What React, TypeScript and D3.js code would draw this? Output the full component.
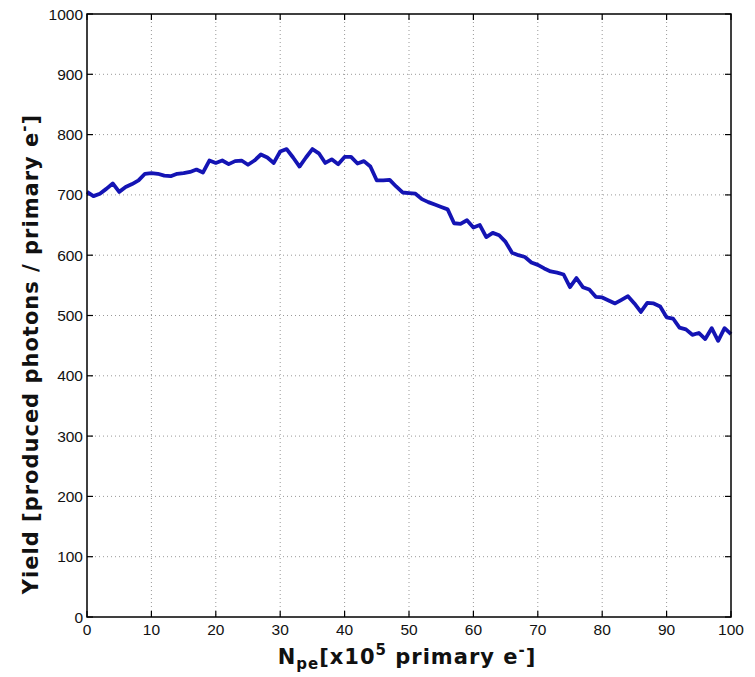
import React from "react";
import * as d3 from "d3";

const xValues: number[] = Array.from({ length: 101 }, (_, i) => i);
const yieldValues: number[] = [
  705, 698, 702, 710, 719, 705, 713, 718, 724, 735,
  736, 735, 732, 731, 735, 736, 738, 742, 737, 757,
  753, 757, 751, 756, 757, 750, 757, 767, 762, 753,
  772, 776, 762, 747, 762, 776, 769, 753, 759, 751,
  763, 763, 752, 756, 747, 724, 724, 725, 714, 704,
  703, 702, 693, 688, 684, 680, 676, 653, 652, 658,
  646, 650, 630, 637, 633, 622, 604, 600, 597, 588,
  584, 578, 573, 571, 568, 547, 562, 547, 543, 531,
  530, 525, 520, 526, 532, 520, 506, 521, 520, 515,
  497, 495, 480, 477, 468, 471, 461, 479, 458, 479,
  469,
];
const xTicks: number[] = [0, 10, 20, 30, 40, 50, 60, 70, 80, 90, 100];
const yTicks: number[] = [0, 100, 200, 300, 400, 500, 600, 700, 800, 900, 1000];

const W = 755;
const H = 677;
const M = { left: 87, top: 14, right: 731, bottom: 617 };

export default function App() {
  const x = d3.scaleLinear().domain([0, 100]).range([M.left, M.right]);
  const y = d3.scaleLinear().domain([0, 1000]).range([M.bottom, M.top]);
  const line = d3
    .line<number>()
    .x((_, i) => x(xValues[i]))
    .y((d) => y(d));
  const tickFont = "'Liberation Sans', Arial, sans-serif";
  const labelFont = "'DejaVu Sans', sans-serif";
  return (
    <svg
      width={W}
      height={H}
      style={{ position: "absolute", left: 0, top: 0, background: "#fff" }}
    >
      {/* grid */}
      {xTicks.slice(1, -1).map((t) => (
        <line
          key={"gx" + t}
          x1={x(t)}
          x2={x(t)}
          y1={M.top}
          y2={M.bottom}
          stroke="#999"
          strokeWidth={1}
          strokeDasharray="1,3"
        />
      ))}
      {yTicks.slice(1, -1).map((t) => (
        <line
          key={"gy" + t}
          x1={M.left}
          x2={M.right}
          y1={y(t)}
          y2={y(t)}
          stroke="#999"
          strokeWidth={1}
          strokeDasharray="1,3"
        />
      ))}
      {/* ticks */}
      {xTicks.map((t) => (
        <g key={"tx" + t}>
          <line x1={x(t)} x2={x(t)} y1={M.bottom} y2={M.bottom - 6} stroke="#000" strokeWidth={1.2} />
          <line x1={x(t)} x2={x(t)} y1={M.top} y2={M.top + 6} stroke="#000" strokeWidth={1.2} />
          <text
            x={x(t)}
            y={M.bottom + 18}
            textAnchor="middle"
            fontFamily={tickFont}
            fontSize={15.5}
            fill="#111"
          >
            {t}
          </text>
        </g>
      ))}
      {yTicks.map((t) => (
        <g key={"ty" + t}>
          <line x1={M.left} x2={M.left + 6} y1={y(t)} y2={y(t)} stroke="#000" strokeWidth={1.2} />
          <line x1={M.right} x2={M.right - 6} y1={y(t)} y2={y(t)} stroke="#000" strokeWidth={1.2} />
          <text
            x={M.left - 4}
            y={y(t) + 5.5}
            textAnchor="end"
            fontFamily={tickFont}
            fontSize={15.5}
            fill="#111"
          >
            {t}
          </text>
        </g>
      ))}
      {/* data line */}
      <path
        d={line(yieldValues) || ""}
        fill="none"
        stroke="#1414b4"
        strokeWidth={3.8}
        strokeLinejoin="round"
      />
      {/* frame */}
      <rect
        x={M.left}
        y={M.top}
        width={M.right - M.left}
        height={M.bottom - M.top}
        fill="none"
        stroke="#000"
        strokeWidth={1.5}
      />
      {/* x label */}
      <text
        x={407}
        y={664}
        textAnchor="middle"
        fontFamily={labelFont}
        fontWeight="bold"
        fontSize={21}
        letterSpacing={1}
        fill="#111"
      >
        N
        <tspan fontSize={15} dy={5}>pe</tspan>
        <tspan dy={-5}>[x10</tspan>
        <tspan fontSize={15} dy={-9}>5</tspan>
        <tspan dy={9}> primary e</tspan>
        <tspan fontSize={15} dy={-9}>-</tspan>
        <tspan dy={9}>]</tspan>
      </text>
      {/* y label */}
      <text
        transform={`translate(38, 354) rotate(-90)`}
        textAnchor="middle"
        fontFamily={labelFont}
        fontWeight="bold"
        fontSize={21}
        letterSpacing={1}
        fill="#111"
      >
        Yield [produced photons / primary e
        <tspan fontSize={15} dy={-9}>-</tspan>
        <tspan dy={9}>]</tspan>
      </text>
    </svg>
  );
}
